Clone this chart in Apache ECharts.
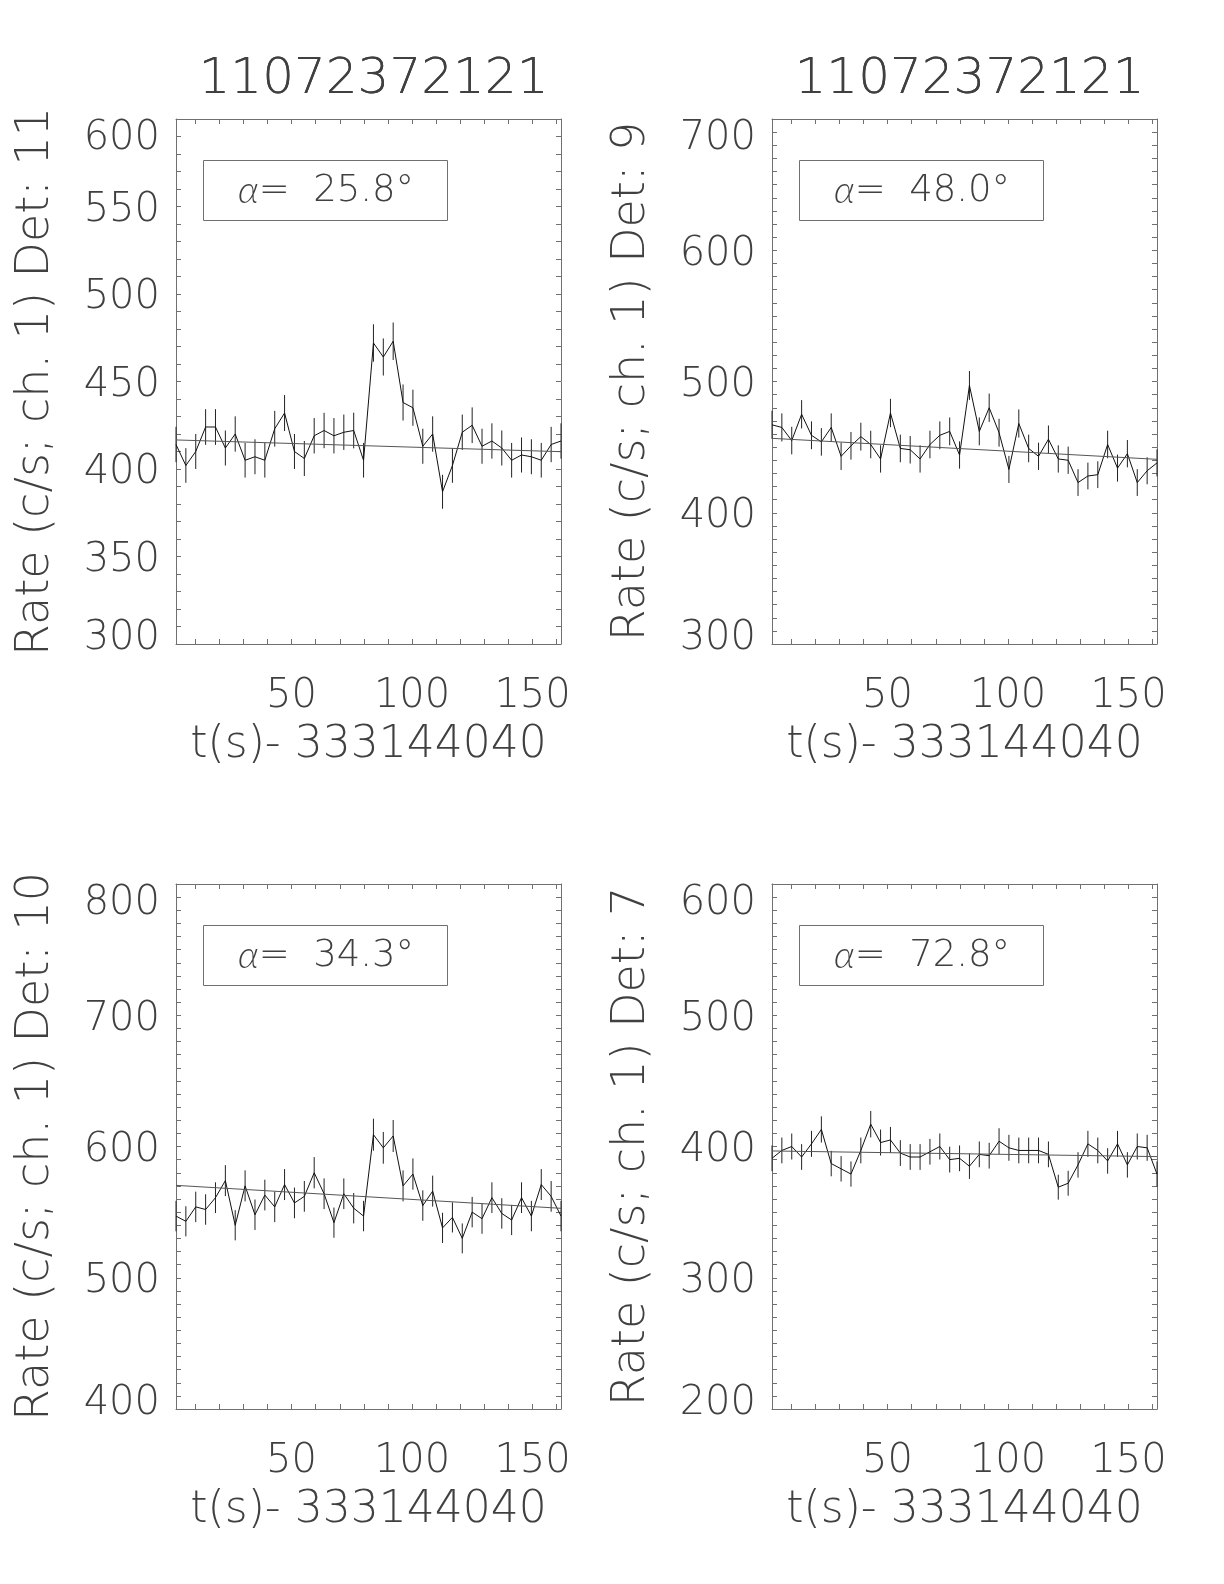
<!DOCTYPE html>
<html><head><meta charset="utf-8">
<script src="https://cdn.jsdelivr.net/npm/echarts@6/dist/echarts.min.js"></script>
<style>html,body{margin:0;padding:0;background:#fff}#c{width:1224px;height:1584px}</style>
</head><body><div id="c"></div>
<script>
// ---- data ----
const titleText = '11072372121';
const xName = 't(s)- 333144040';
const detectors = [11, 9, 10, 7];
const alphas = ['25.8', '48.0', '34.3', '72.8'];
const times = [2.05, 6.14, 10.24, 14.34, 18.43, 22.53, 26.62, 30.72, 34.82, 38.91,
  43.01, 47.10, 51.20, 55.30, 59.39, 63.49, 67.58, 71.68, 75.78, 79.87,
  83.97, 88.06, 92.16, 96.26, 100.35, 104.45, 108.54, 112.64, 116.74, 120.83,
  124.93, 129.02, 133.12, 137.22, 141.31, 145.41, 149.50, 153.60, 157.70, 161.79];
const xTickValues = [10, 20, 30, 40, 50, 60, 70, 80, 90, 100, 110, 120, 130, 140, 150, 160];
const xLabelValues = [50, 100, 150];

const rateDet11 = [414, 402, 410, 424, 424, 412, 420, 405, 407, 405, 423, 432, 410, 406, 419, 422, 419, 421, 422, 405,
  472, 464, 473, 438, 435, 413, 420, 387, 402, 421, 425, 413, 416, 412, 405, 408, 407, 405, 414, 416];
const errDet11 = [10.1, 9.9, 10.0, 10.2, 10.2, 10.0, 10.1, 9.9, 10.0, 9.9, 10.2, 10.3, 10.0, 10.0, 10.1, 10.1, 10.1, 10.1, 10.2, 9.9,
  10.7, 10.6, 10.7, 10.3, 10.3, 10.0, 10.1, 9.7, 9.9, 10.1, 10.2, 10.0, 10.1, 10.0, 9.9, 10.0, 10.0, 9.9, 10.1, 10.1];
const fitDet11 = [416.6, 409.9];

const rateDet9 = [467, 465, 455, 475, 459, 454, 465, 443, 451, 458, 452, 441, 476, 449, 448, 441, 452, 459, 462, 444,
  497, 462, 480, 461, 433, 468, 449, 443, 456, 441, 440, 423, 428, 429, 452, 434, 445, 423, 432, 438];
const errDet9 = [10.7, 10.7, 10.5, 10.8, 10.6, 10.5, 10.7, 10.4, 10.5, 10.6, 10.5, 10.4, 10.8, 10.5, 10.5, 10.4, 10.5, 10.6, 10.6, 10.4,
  11.0, 10.6, 10.8, 10.6, 10.3, 10.7, 10.5, 10.4, 10.5, 10.4, 10.4, 10.2, 10.2, 10.2, 10.5, 10.3, 10.4, 10.2, 10.3, 10.3];
const fitDet9 = [456.7, 440.7];

const rateDet10 = [547, 543, 554, 552, 561, 574, 540, 570, 548, 563, 554, 571, 557, 562, 580, 564, 542, 564, 553, 547,
  609, 599, 608, 570, 579, 555, 566, 538, 546, 530, 550, 545, 561, 549, 544, 561, 547, 571, 562, 547];
const errDet10 = [11.6, 11.5, 11.6, 11.6, 11.7, 11.8, 11.5, 11.8, 11.6, 11.7, 11.6, 11.8, 11.7, 11.7, 11.9, 11.7, 11.5, 11.7, 11.6, 11.6,
  12.2, 12.1, 12.2, 11.8, 11.9, 11.6, 11.8, 11.5, 11.5, 11.4, 11.6, 11.5, 11.7, 11.6, 11.5, 11.7, 11.6, 11.8, 11.7, 11.6];
const fitDet10 = [570.4, 552.9];

const rateDet7 = [391, 397, 400, 392, 402, 413, 387, 383, 379, 397, 417, 403, 405, 395, 392, 392, 396, 400, 390, 391,
  385, 394, 393, 404, 399, 397, 397, 397, 394, 369, 372, 386, 402, 397, 389, 402, 386, 400, 399, 379];
const errDet7 = [9.8, 9.8, 9.9, 9.8, 9.9, 10.0, 9.7, 9.7, 9.6, 9.8, 10.1, 9.9, 9.9, 9.8, 9.8, 9.8, 9.8, 9.9, 9.8, 9.8,
  9.7, 9.8, 9.8, 9.9, 9.9, 9.8, 9.8, 9.8, 9.8, 9.5, 9.5, 9.7, 9.9, 9.8, 9.7, 9.9, 9.7, 9.9, 9.9, 9.6];
const fitDet7 = [396.6, 392.3];

const yRanges = [[300, 600, 50, 5], [300, 700, 100, 10], [400, 800, 100, 10], [200, 600, 100, 10]];
const rates = [rateDet11, rateDet9, rateDet10, rateDet7];
const errs = [errDet11, errDet9, errDet10, errDet7];
const fits = [fitDet11, fitDet9, fitDet10, fitDet7];

// ---- layout ----
const FONT = "'DejaVu Sans', sans-serif";
const TXT = '#404040';
const FRAME = '#707070';
const W = 385, H = 525;
const pos = [[176, 119], [772, 119], [176, 884], [772, 884]];

const chart = echarts.init(document.getElementById('c'), null, {renderer: 'canvas'});
const grid = [], xAxis = [], yAxis = [], series = [], title = [], graphic = [];
const lbl = {fontSize: 40, fontFamily: FONT, fontWeight: 200, color: TXT};

pos.forEach(([l, t], i) => {
  grid.push({left: l, top: t, width: W, height: H, containLabel: false});
  const tick = {show: true, inside: true, length: 5, lineStyle: {color: FRAME, width: 1}};
  const line = {show: true, onZero: false, lineStyle: {color: FRAME, width: 1}};
  const xmin = times[0], xmax = times[times.length - 1];
  xAxis.push({type: 'value', gridIndex: i, position: 'bottom', min: xmin, max: xmax,
    axisLine: line, splitLine: {show: false},
    axisTick: Object.assign({}, tick, {customValues: xTickValues}),
    axisLabel: Object.assign({show: true, customValues: xLabelValues, margin: 33}, lbl),
    name: xName, nameLocation: 'middle', nameGap: 80,
    nameTextStyle: {fontSize: 44, fontFamily: FONT, fontWeight: 200, color: TXT}});
  xAxis.push({type: 'value', gridIndex: i, position: 'top', min: xmin, max: xmax,
    axisLine: line, splitLine: {show: false},
    axisTick: Object.assign({}, tick, {customValues: xTickValues}),
    axisLabel: {show: false}});
  const [ymin, ymax, step, nminor] = yRanges[i];
  const minor = {show: true, splitNumber: nminor, length: 5, lineStyle: {color: FRAME, width: 1}};
  yAxis.push({type: 'value', gridIndex: i, position: 'left', min: ymin, max: ymax, interval: step,
    axisLine: line, splitLine: {show: false}, minorSplitLine: {show: false},
    axisTick: tick, minorTick: minor,
    axisLabel: Object.assign({show: true, margin: 16,
      verticalAlignMaxLabel: 'top', verticalAlignMinLabel: 'bottom',
      formatter: (v) => (v === ymin ? '{lo|' + v + '}' : (v === ymax ? '{hi|' + v + '}' : '{n|' + v + '}')),
      rich: {lo: Object.assign({lineHeight: 10}, lbl),
             hi: Object.assign({lineHeight: 40}, lbl),
             n: Object.assign({lineHeight: 30, padding: [8, 0, 0, 0]}, lbl)}}, lbl),
    name: 'Rate (c/s; ch. 1) Det: ' + detectors[i], nameLocation: 'middle', nameGap: 117,
    nameTextStyle: {fontSize: 46, fontFamily: FONT, fontWeight: 200, color: TXT}});
  yAxis.push({type: 'value', gridIndex: i, position: 'right', min: ymin, max: ymax, interval: step,
    axisLine: line, splitLine: {show: false}, minorSplitLine: {show: false},
    axisTick: tick, minorTick: minor, axisLabel: {show: false}});

  const xi = 2 * i, yi = 2 * i;
  const pts = times.map((tt, k) => [tt, rates[i][k]]);
  const bars = times.map((tt, k) => [tt, rates[i][k], errs[i][k]]);
  series.push({type: 'custom', xAxisIndex: xi, yAxisIndex: yi, data: bars, silent: true,
    renderItem: (params, api) => {
      const x = api.value(0), v = api.value(1), e = api.value(2);
      const p1 = api.coord([x, v - e]), p2 = api.coord([x, v + e]);
      return {type: 'line', shape: {x1: p1[0], y1: p1[1], x2: p2[0], y2: p2[1]},
        style: {stroke: '#222', lineWidth: 1}};
    }});
  series.push({type: 'line', xAxisIndex: xi, yAxisIndex: yi, data: pts, symbol: 'none',
    lineStyle: {color: '#111', width: 1}, silent: true});
  series.push({type: 'line', xAxisIndex: xi, yAxisIndex: yi,
    data: [[xmin, fits[i][0]], [xmax, fits[i][1]]], symbol: 'none',
    lineStyle: {color: '#555', width: 1}, silent: true});

  title.push({text: titleText, left: l + W / 2, top: 50, textAlign: 'center',
    textStyle: {fontSize: 50, fontFamily: FONT, fontWeight: 200, color: TXT}});

  graphic.push({type: 'rect', left: l + 25, top: t + 39, shape: {width: 244, height: 60},
    style: {fill: 'none', stroke: FRAME, lineWidth: 1}, z: 10});
  graphic.push({type: 'text', left: l + 62, top: t + 53, z: 10,
    style: {text: '{a|α}=  ' + alphas[i] + '°', fontSize: 37, fontFamily: FONT, fontWeight: 200, fill: TXT,
      rich: {a: {fontSize: 38, fontFamily: "Lato, 'DejaVu Sans', sans-serif", fontStyle: 'italic', fontWeight: 300, color: TXT}}}});
});

chart.setOption({animation: false, backgroundColor: '#fff', title, grid, xAxis, yAxis, series, graphic});
</script></body></html>
